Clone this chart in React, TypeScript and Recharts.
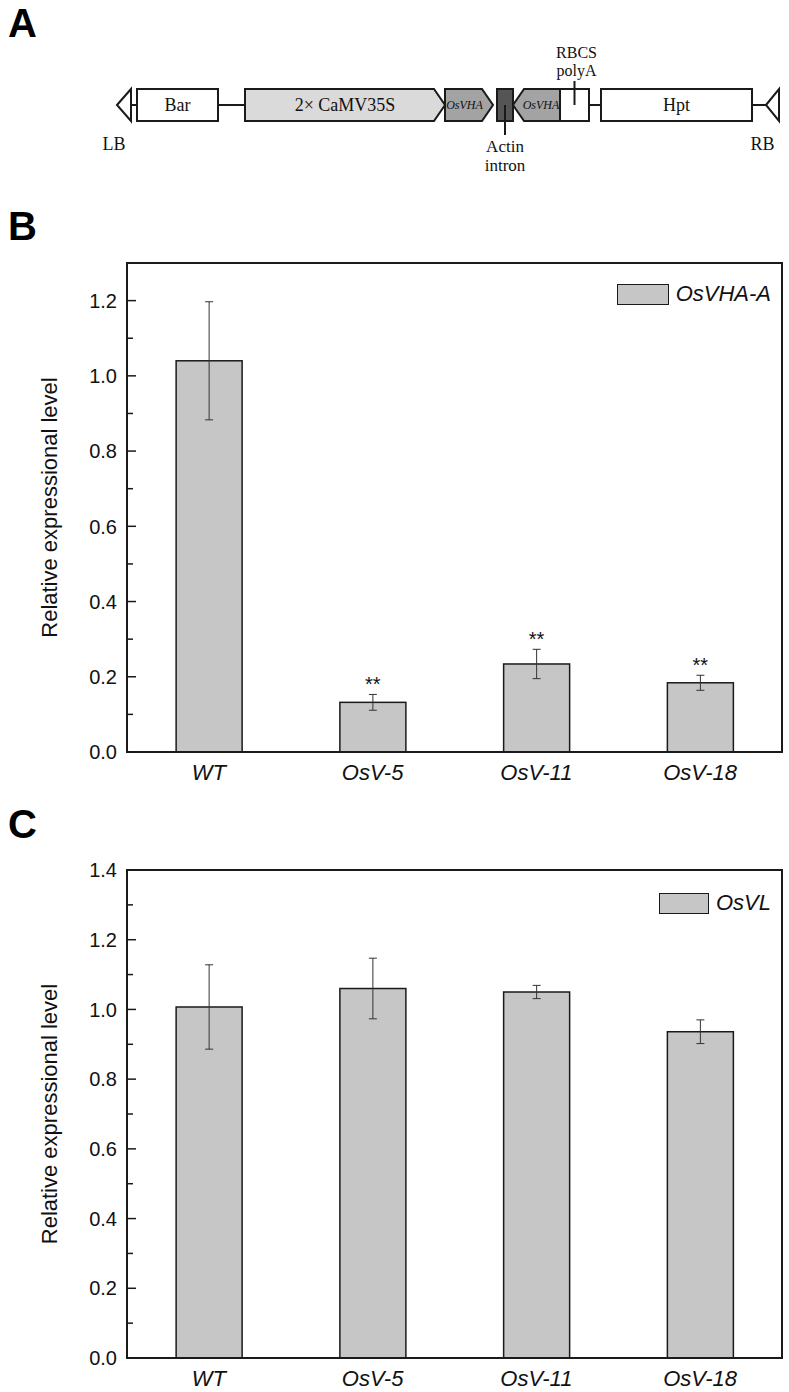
import React from "react";
import { BarChart, Bar, XAxis, YAxis, ErrorBar, Legend, ReferenceArea } from "recharts";

const SANS = "Arial, 'Liberation Sans', Helvetica, sans-serif";
const SERIF = "'Times New Roman', 'Liberation Serif', serif";
const INK = "#1a1a1a";
const BAR_FILL = "#c6c6c6";

// Panel A: T-DNA map, read left to right (lengths along the map)
const SEGMENT_KINDS = ["triL", "line", "box", "line", "promoter", "geneR", "gap", "intron", "geneL", "term", "line", "box", "line", "triL"];
const SEGMENT_LENGTHS = [14, 6, 81, 27, 200, 48, 4, 16, 47, 29, 12, 151, 14, 13];
const SEGMENT_LABELS = ["", "", "Bar", "", "2× CaMV35S", "OsVHA", "", "", "OsVHA", "", "", "Hpt", "", ""];
const SEGMENT_NOTES = ["LB", "", "", "", "", "", "", "Actin|intron", "", "RBCS|polyA", "", "", "", "RB"];

// Panels B and C: qRT-PCR
const LINES = ["WT", "OsV-5", "OsV-11", "OsV-18"];
const VHA_MEAN = [1.04, 0.132, 0.234, 0.184];
const VHA_SD = [0.157, 0.021, 0.039, 0.02];
const VHA_SIG = ["", "**", "**", "**"];
const VL_MEAN = [1.007, 1.06, 1.05, 0.936];
const VL_SD = [0.121, 0.087, 0.019, 0.034];
const VL_SIG = ["", "", "", ""];
const VHA_TICKS = [0, 0.1, 0.2, 0.3, 0.4, 0.5, 0.6, 0.7, 0.8, 0.9, 1.0, 1.1, 1.2];
const VL_TICKS = [0, 0.1, 0.2, 0.3, 0.4, 0.5, 0.6, 0.7, 0.8, 0.9, 1.0, 1.1, 1.2, 1.3, 1.4];
const VHA_MAX = 1.3;
const VL_MAX = 1.4;

const tdnaRow: Record<string, any> = { row: "T-DNA" };
SEGMENT_LENGTHS.forEach((len, i) => {
  tdnaRow[`s${i}`] = len;
});
const TDNA = [tdnaRow];

const vhaData = LINES.map((name, i) => ({ name, mean: VHA_MEAN[i], sd: VHA_SD[i], sig: VHA_SIG[i] }));
const vlData = LINES.map((name, i) => ({ name, mean: VL_MEAN[i], sd: VL_SD[i], sig: VL_SIG[i] }));

function Segment(props: any) {
  const { x, y, width: w, height: h, kind, label, note } = props;
  const cy = y + h / 2;
  const tip = 11;
  let body: React.ReactNode = null;
  if (kind === "line") {
    body = <line x1={x} x2={x + w} y1={cy} y2={cy} stroke={INK} strokeWidth={2} />;
  } else if (kind === "triL") {
    body = (
      <polygon
        points={`${x},${cy} ${x + w},${y} ${x + w},${y + h}`}
        fill="#fff"
        stroke={INK}
        strokeWidth={2}
      />
    );
  } else if (kind === "box" || kind === "term") {
    body = <rect x={x} y={y} width={w} height={h} fill="#fff" stroke={INK} strokeWidth={2} />;
  } else if (kind === "intron") {
    body = <rect x={x} y={y} width={w} height={h} fill="#555" stroke={INK} strokeWidth={2} />;
  } else if (kind === "promoter" || kind === "geneR") {
    body = (
      <polygon
        points={`${x},${y} ${x + w - tip},${y} ${x + w},${cy} ${x + w - tip},${y + h} ${x},${y + h}`}
        fill={kind === "promoter" ? "#dadada" : "#a3a3a3"}
        stroke={INK}
        strokeWidth={2}
      />
    );
  } else if (kind === "geneL") {
    body = (
      <polygon
        points={`${x},${cy} ${x + tip},${y} ${x + w},${y} ${x + w},${y + h} ${x + tip},${y + h}`}
        fill="#a3a3a3"
        stroke={INK}
        strokeWidth={2}
      />
    );
  }

  const gene = kind === "geneR" || kind === "geneL";
  const textX = kind === "geneR" ? x + (w - tip) / 2 + 1 : kind === "geneL" ? x + tip + (w - tip) / 2 - 1 : x + w / 2;
  const parts = note ? note.split("|") : [];

  return (
    <g>
      {body}
      {label && (
        <text
          x={textX}
          y={cy}
          dy="0.35em"
          textAnchor="middle"
          fontFamily={SERIF}
          fontSize={gene ? 12 : 18}
          fontStyle={gene ? "italic" : "normal"}
          fill="#111"
        >
          {label}
        </text>
      )}
      {kind === "triL" && note && (
        <text x={x + w / 2 - 10} y={y + h + 29} textAnchor="middle" fontFamily={SERIF} fontSize={18} fill="#111">
          {note}
        </text>
      )}
      {kind === "intron" && (
        <g>
          <line x1={x + w / 2} x2={x + w / 2} y1={cy} y2={y + h + 14} stroke={INK} strokeWidth={2} />
          {parts.map((p: string, k: number) => (
            <text key={k} x={x + w / 2} y={y + h + 31 + k * 19} textAnchor="middle" fontFamily={SERIF} fontSize={17} fill="#111">
              {p}
            </text>
          ))}
        </g>
      )}
      {kind === "term" && (
        <g>
          <line x1={x + w / 2} x2={x + w / 2} y1={y - 8} y2={cy} stroke={INK} strokeWidth={2} />
          {parts.map((p: string, k: number) => (
            <text key={k} x={x + w / 2 + 2} y={y - 31 + k * 18} textAnchor="middle" fontFamily={SERIF} fontSize={16} fill="#111">
              {p}
            </text>
          ))}
        </g>
      )}
    </g>
  );
}

function ConstructMap() {
  return (
    <BarChart
      layout="vertical"
      width={789}
      height={150}
      data={TDNA}
      margin={{ top: 0, right: 10, bottom: 20, left: 117 }}
      barSize={32}
    >
      <XAxis type="number" hide domain={[0, "dataMax"]} />
      <YAxis type="category" dataKey="row" hide />
      {SEGMENT_LENGTHS.map((_, i) => (
        <Bar
          key={i}
          dataKey={`s${i}`}
          stackId="tdna"
          isAnimationActive={false}
          shape={(p: any) => (
            <Segment {...p} kind={SEGMENT_KINDS[i]} label={SEGMENT_LABELS[i]} note={SEGMENT_NOTES[i]} />
          )}
        />
      ))}
    </BarChart>
  );
}

function YTick(props: any) {
  const { x, y, payload } = props;
  const v = payload.value as number;
  const major = Math.round(v * 10) % 2 === 0;
  const ax = x + 10;
  return (
    <g>
      <line x1={ax} x2={ax + (major ? 9 : 6)} y1={y} y2={y} stroke={INK} strokeWidth={1.5} />
      {major && (
        <text x={x} y={y} dy="0.36em" textAnchor="end" fontFamily={SANS} fontSize={20} fill="#111">
          {v.toFixed(1)}
        </text>
      )}
    </g>
  );
}

function SigBar(props: any) {
  const { x, y, width, height, payload } = props;
  const perUnit = height / payload.mean;
  const errTop = y - payload.sd * perUnit;
  return (
    <g>
      <rect x={x} y={y} width={width} height={height} fill={BAR_FILL} stroke={INK} strokeWidth={1.5} />
      {payload.sig && (
        <text x={x + width / 2} y={errTop - 3} textAnchor="middle" fontFamily={SANS} fontSize={20} fill="#111">
          {payload.sig}
        </text>
      )}
    </g>
  );
}

function YTitle(props: any) {
  const vb = props.viewBox;
  const cx = vb.x + 2;
  const cy = vb.y + vb.height / 2;
  return (
    <text
      x={cx}
      y={cy}
      transform={`rotate(-90, ${cx}, ${cy})`}
      textAnchor="middle"
      dominantBaseline="central"
      fontFamily={SANS}
      fontSize={22}
      fill="#111"
    >
      Relative expressional level
    </text>
  );
}

function LegendBox(props: any) {
  const { payload, boxWidth } = props;
  return (
    <div style={{ display: "flex", alignItems: "center", justifyContent: "flex-end" }}>
      {(payload || []).map((item: any) => (
        <React.Fragment key={item.value}>
          <span
            style={{
              display: "inline-block",
              width: boxWidth,
              height: 21,
              boxSizing: "border-box",
              background: BAR_FILL,
              border: `1.5px solid ${INK}`,
              marginRight: 7,
            }}
          />
          <span style={{ fontFamily: SANS, fontStyle: "italic", fontSize: 22, color: "#111", lineHeight: "22px" }}>
            {item.value}
          </span>
        </React.Fragment>
      ))}
    </div>
  );
}

function ExpressionChart({
  data,
  series,
  ticks,
  yMax,
  top,
  height,
  marginTop,
  marginBottom,
  legendTop,
  legendBox,
}: {
  data: any[];
  series: string;
  ticks: number[];
  yMax: number;
  top: number;
  height: number;
  marginTop: number;
  marginBottom: number;
  legendTop: number;
  legendBox: number;
}) {
  return (
    <div style={{ position: "absolute", left: 0, top }}>
      <BarChart
        width={789}
        height={height}
        data={data}
        margin={{ top: marginTop, right: 7, bottom: marginBottom, left: 47 }}
        barCategoryGap="30%"
      >
        <XAxis
          dataKey="name"
          height={30}
          interval={0}
          tickLine={false}
          tickSize={0}
          tickMargin={12}
          axisLine={{ stroke: INK, strokeWidth: 2 }}
          tick={{ fontFamily: SANS, fontSize: 22, fontStyle: "italic", fill: "#111" }}
        />
        <YAxis
          width={80}
          domain={[0, yMax]}
          ticks={ticks}
          interval={0}
          tickLine={false}
          tickSize={0}
          tickMargin={10}
          axisLine={{ stroke: INK, strokeWidth: 2 }}
          tick={<YTick />}
          label={{ content: <YTitle /> }}
        />
        <ReferenceArea y1={0} y2={yMax} fill="none" stroke={INK} strokeWidth={2} ifOverflow="visible" />
        <Legend
          layout="horizontal"
          verticalAlign="middle"
          align="center"
          wrapperStyle={{ top: legendTop, left: 540, width: 231 }}
          content={(p: any) => <LegendBox {...p} boxWidth={legendBox} />}
        />
        <Bar dataKey="mean" name={series} fill={BAR_FILL} isAnimationActive={false} shape={<SigBar />}>
          <ErrorBar dataKey="sd" width={4} stroke="#333" strokeWidth={1} />
        </Bar>
      </BarChart>
    </div>
  );
}

function PanelLetter({ text, top }: { text: string; top: number }) {
  return (
    <div
      style={{
        position: "absolute",
        left: 8,
        top,
        fontFamily: SANS,
        fontWeight: "bold",
        fontSize: 40,
        lineHeight: "46px",
        color: "#000",
      }}
    >
      {text}
    </div>
  );
}

export default function App() {
  return (
    <div
      style={{
        position: "absolute",
        left: 0,
        top: 0,
        width: 789,
        height: 1392,
        background: "#fff",
        overflow: "hidden",
      }}
    >
      <PanelLetter text="A" top={0} />
      <PanelLetter text="B" top={203} />
      <PanelLetter text="C" top={801} />
      <div style={{ position: "absolute", left: 0, top: 40 }}>
        <ConstructMap />
      </div>
      <ExpressionChart
        data={vhaData}
        series="OsVHA-A"
        ticks={VHA_TICKS}
        yMax={VHA_MAX}
        top={200}
        height={590}
        marginTop={63}
        marginBottom={8}
        legendTop={83}
        legendBox={52}
      />
      <ExpressionChart
        data={vlData}
        series="OsVL"
        ticks={VL_TICKS}
        yMax={VL_MAX}
        top={790}
        height={600}
        marginTop={80}
        marginBottom={2}
        legendTop={102}
        legendBox={50}
      />
    </div>
  );
}
